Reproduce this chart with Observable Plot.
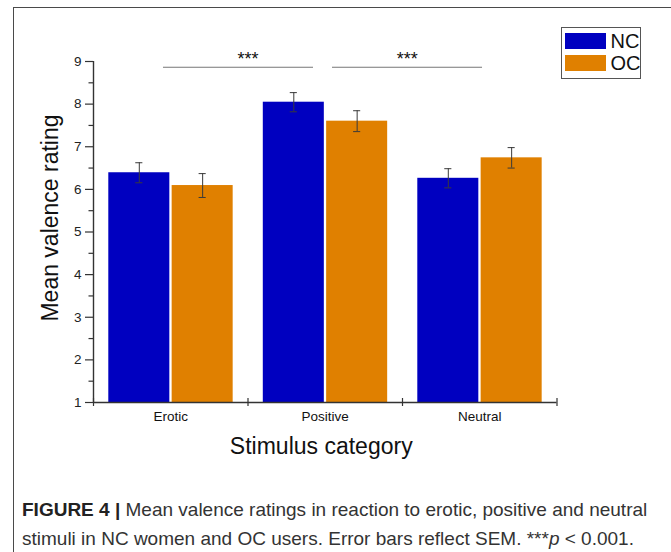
<!DOCTYPE html>
<html>
<head>
<meta charset="utf-8">
<script src="https://cdn.jsdelivr.net/npm/d3@7"></script>
<script src="https://cdn.jsdelivr.net/npm/@observablehq/plot@0.6"></script>
<style>
  html, body { margin: 0; padding: 0; background: #fff; overflow: hidden; }
  body { width: 671px; height: 552px; position: relative; font-family: "Liberation Sans", Arial, sans-serif; }
  #frame { position: absolute; left: 13px; top: 7px; width: 800px; height: 800px; border: 1.5px solid #4a4a4a; box-sizing: border-box; }
  #chart { position: absolute; left: 0; top: 0; }
  #legend { position: absolute; left: 560.5px; top: 26.5px; width: 80px; height: 52px; border: 1px solid #555; box-sizing: border-box; background: #fff; }
  .sw { position: absolute; left: 3px; width: 41px; height: 16.5px; }
  .lt { position: absolute; left: 49px; font-size: 20px; line-height: 20px; color: #111; }
  #caption { position: absolute; left: 22px; top: 495px; width: 645px; font-size: 19px; line-height: 29px; color: #333; white-space: nowrap; }
  #caption b { color: #222; }
</style>
</head>
<body>
<div id="frame"></div>
<div id="chart"></div>
<div id="legend"></div>
<div id="caption"><b>FIGURE 4 |</b> Mean valence ratings in reaction to erotic, positive and neutral<br>stimuli in NC women and OC users. Error bars reflect SEM. ***<i>p</i> &lt; 0.001.</div>
<script>
// ---- data ----
const categories = ["Erotic", "Positive", "Neutral"];
const groups = ["NC", "OC"];
const colors = ["#0000c0", "#e08000"];
const ncMeans = [6.39, 8.045, 6.26];
const ocMeans = [6.09, 7.6, 6.74];
const ncSem = [0.235, 0.225, 0.225];
const ocSem = [0.28, 0.245, 0.24];
const yTicks = [1, 2, 3, 4, 5, 6, 7, 8, 9];
const yMinorTicks = [1.5, 2.5, 3.5, 4.5, 5.5, 6.5, 7.5, 8.5];
// significance brackets, in category-axis units
const sigLineStart = [0.453, 1.547];
const sigLineEnd = [1.424, 2.518];
const sigLabelX = [1.0, 2.03];
const sigLevel = [8.865, 8.865];
const sigLabels = ["***", "***"];

// ---- layout helpers ----
const pad = 0.099, bw = 0.395, gap = 0.015, cap = 0.023;
const rows = categories.flatMap((c, i) => groups.map((g, j) => {
  const mean = j ? ocMeans[i] : ncMeans[i];
  const sem = j ? ocSem[i] : ncSem[i];
  const x1 = i + pad + j * (bw + gap);
  return {category: c, group: g, mean, sem, base: 1, x1, x2: x1 + bw, xc: x1 + bw / 2,
          lo: mean - sem, hi: mean + sem, cl: x1 + bw / 2 - cap, cr: x1 + bw / 2 + cap};
}));
const sigs = sigLabels.map((l, k) => ({label: l, x1: sigLineStart[k], x2: sigLineEnd[k], xs: sigLabelX[k], y: sigLevel[k]}));

const plot = Plot.plot({
  width: 671,
  height: 480,
  marginTop: 61,
  marginBottom: 78,
  marginLeft: 93,
  marginRight: 114.5,
  style: {fontFamily: "Liberation Sans, Arial, sans-serif", fontSize: "13px", color: "#222", background: "transparent"},
  x: {domain: [0, 3], axis: null},
  y: {domain: [1, 9], axis: null},
  color: {domain: groups, range: colors},
  marks: [
    Plot.rect(rows, {x1: "x1", x2: "x2", y1: "base", y2: "mean", fill: "group"}),
    Plot.ruleX(rows, {x: "xc", y1: "lo", y2: "hi", stroke: "#3a3a3a", strokeWidth: 1}),
    Plot.ruleY(rows, {y: "hi", x1: "cl", x2: "cr", stroke: "#3a3a3a", strokeWidth: 1}),
    Plot.ruleY(rows, {y: "lo", x1: "cl", x2: "cr", stroke: "#3a3a3a", strokeWidth: 1}),
    // axis lines
    Plot.ruleX([0], {stroke: "#333", strokeWidth: 1.4}),
    Plot.ruleY([1], {stroke: "#333", strokeWidth: 1.4}),
    // y axis
    Plot.axisY({ticks: yTicks, tickSize: 8, tickPadding: 4, tickFormat: d => String(d), stroke: "#333", strokeWidth: 1.2, fill: "#222", fontSize: 13.5, label: null}),
    Plot.axisY({ticks: yMinorTicks, tickSize: 4.5, tickFormat: () => "", stroke: "#333", strokeWidth: 1.2, label: null}),
    // x axis
    Plot.axisX({ticks: [0, 1, 2, 3], tickSize: 8, dy: -4, tickFormat: () => "", stroke: "#333", strokeWidth: 1.2, label: null}),
    Plot.axisX({ticks: categories.map((c, i) => i + 0.5), tickSize: 0, tickPadding: 9, tickFormat: d => categories[Math.floor(d)], fill: "#111", fontSize: 13.5, label: null}),
    // significance
    Plot.ruleY(sigs, {y: "y", x1: "x1", x2: "x2", stroke: "#777", strokeWidth: 1}),
    Plot.text(sigs, {x: "xs", y: "y", text: "label", dy: -2.7, lineAnchor: "bottom", fontSize: 18, fill: "#111"}),
    // titles
    Plot.text(["Stimulus category"], {text: d => d, frameAnchor: "bottom", dx: -4, dy: 51, lineAnchor: "bottom", fontSize: 23, fill: "#111"}),
    Plot.text(["Mean valence rating"], {text: d => d, frameAnchor: "left", textAnchor: "middle", dx: -36, dy: -14, rotate: -90, lineAnchor: "bottom", fontSize: 23, fill: "#111"})
  ]
});
document.getElementById("chart").appendChild(plot);

// legend
const legend = document.getElementById("legend");
groups.forEach((g, j) => {
  const sw = document.createElement("div");
  sw.className = "sw";
  sw.style.top = (5 + j * 22.3) + "px";
  sw.style.background = colors[j];
  legend.appendChild(sw);
  const t = document.createElement("div");
  t.className = "lt";
  t.style.top = (3.5 + j * 22.3) + "px";
  t.textContent = g;
  legend.appendChild(t);
});
</script>
</body>
</html>
